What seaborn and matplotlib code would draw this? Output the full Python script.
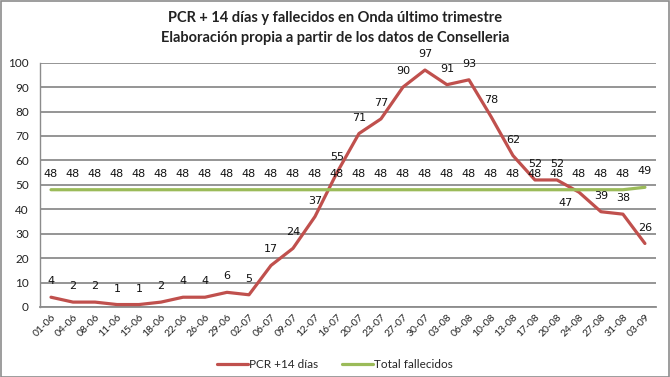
import matplotlib
matplotlib.use("Agg")
import matplotlib.pyplot as plt
import seaborn as sns
import pandas as pd
from matplotlib.lines import Line2D
from matplotlib.patches import Rectangle

fechas = ["01-06", "04-06", "08-06", "11-06", "15-06", "18-06", "22-06", "26-06",
          "29-06", "02-07", "06-07", "09-07", "12-07", "16-07", "20-07", "23-07",
          "27-07", "30-07", "03-08", "06-08", "10-08", "13-08", "17-08", "20-08",
          "24-08", "27-08", "31-08", "03-09"]
pcr = [4, 2, 2, 1, 1, 2, 4, 4, 6, 5, 17, 24, 37, 55, 71, 77, 90, 97, 91, 93,
       78, 62, 52, 52, 47, 39, 38, 26]
fallecidos = [48] * 27 + [49]
series_names = ["PCR +14 días", "Total fallecidos"]
colors = ["#C0504D", "#9BBB59"]
title = "PCR + 14 días y fallecidos en Onda último trimestre\nElaboración propia a partir de los datos de Conselleria"

sns.set_style("white")
plt.rcParams["font.family"] = ["Lato", "DejaVu Sans"]

df = pd.concat([
    pd.DataFrame({"fecha": fechas, "valor": pcr, "serie": series_names[0]}),
    pd.DataFrame({"fecha": fechas, "valor": fallecidos, "serie": series_names[1]}),
])
df["idx"] = df.groupby("serie").cumcount()

fig = plt.figure(figsize=(6.7, 3.77), dpi=100)
ax = fig.add_axes([0.0597, 0.1857, 0.9193, 0.648])

sns.lineplot(data=df, x="idx", y="valor", hue="serie", palette=colors,
             linewidth=2.3, sort=False, ax=ax, legend=False, zorder=3)

ax.set_xlim(-0.5, len(fechas) - 0.5)
ax.set_ylim(0, 100)
ax.set_yticks(range(0, 101, 10))
ax.set_xticks(range(len(fechas)))
ax.set_xticklabels(fechas, rotation=45, ha="right", rotation_mode="anchor",
                   fontsize=7.5, color="#222222")
ax.tick_params(axis="x", pad=4, length=0)
ax.tick_params(axis="y", labelsize=8.5, length=0, pad=8, labelcolor="#222222")
ax.set_xlabel("")
ax.set_ylabel("")
ax.grid(axis="y", color="#8c8c8c", linewidth=1.3)
ax.set_axisbelow(True)
for s in ["top", "right"]:
    ax.spines[s].set_visible(False)
ax.spines["left"].set_color("#8c8c8c")
ax.spines["bottom"].set_color("#8c8c8c")
ax.spines["left"].set_linewidth(1.0)
ax.spines["bottom"].set_linewidth(1.3)

# data labels
for i, v in enumerate(pcr):
    if v == 47:
        off = (-9.5, -8)
    else:
        off = (0, 11.5)
    ax.annotate(str(v), (i, v), xytext=off, textcoords="offset points",
                ha="center", va="center", fontsize=8, family="DejaVu Sans",
                color="#111111", annotation_clip=False, zorder=5)
for i, v in enumerate(fallecidos):
    ax.annotate(str(v), (i, v), xytext=(0, 11.5), textcoords="offset points",
                ha="center", va="center", fontsize=8, family="DejaVu Sans",
                color="#111111", annotation_clip=False, zorder=5)

fig.text(0.5, 0.925, title, ha="center", va="center", fontsize=10.5,
         fontweight="bold", linespacing=1.55, color="#222222")

handles = [Line2D([0], [0], color=c, linewidth=2.3) for c in colors]
fig.legend(handles, series_names, loc="center", bbox_to_anchor=(0.5, 0.032),
           ncol=2, frameon=False, fontsize=8.5, handlelength=2.6,
           handletextpad=0.1, columnspacing=2.0)

fig.add_artist(Rectangle((0.001, 0.001), 0.997, 0.997, transform=fig.transFigure,
                         fill=False, edgecolor="#8c8c8c", linewidth=1.2))

fig.savefig("out.png", dpi=100)
